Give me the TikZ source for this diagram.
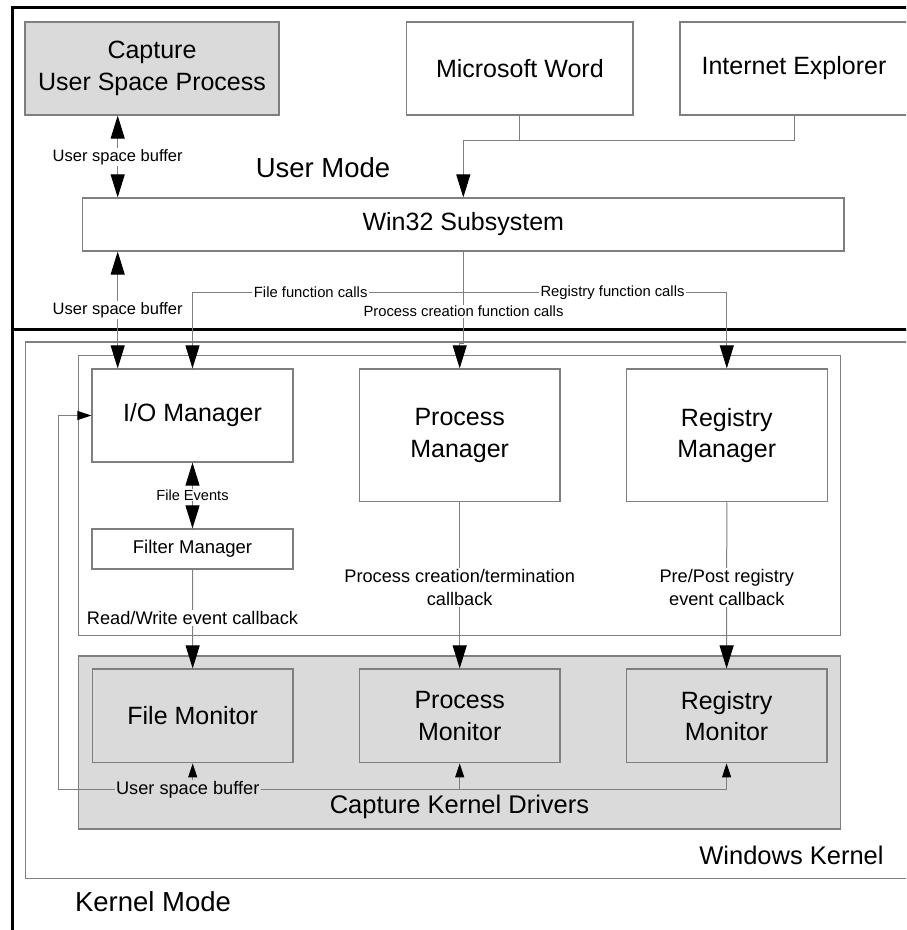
\documentclass[tikz,border=0pt]{standalone}
\usepackage{fontspec}
\setmainfont{Liberation Sans}
\usetikzlibrary{arrows.meta}

\definecolor{edge}{HTML}{7F7F7F}
\definecolor{wirec}{HTML}{808080}
\definecolor{shade}{HTML}{DADADA}

\tikzset{
  bigtip/.tip={Triangle[length=23pt,width=14pt,color=black]},
  smalltip/.tip={Triangle[length=14pt,width=9pt,color=black]},
  frame/.style={line width=3pt, black},
  region/.style={draw=edge, line width=1.2pt},
  box/.style={draw=edge, line width=1.2pt, fill=white, align=center, inner sep=0pt,
              font=\fontsize{25}{31.5}\selectfont},
  graybox/.style={box, fill=shade},
  wire/.style={draw=wirec, line width=1pt},
  tag/.style={fill=white, inner xsep=1.5pt, inner ysep=1pt, align=center},
  tagsmall/.style={tag, font=\fontsize{14.8}{18}\selectfont},
  tagmid/.style={tag, font=\fontsize{16.5}{20}\selectfont},
  tagcb/.style={tag, font=\fontsize{18.2}{23}\selectfont},
  title/.style={inner sep=0pt, font=\fontsize{25.5}{31}\selectfont},
  modetitle/.style={inner sep=0pt, font=\fontsize{27.5}{33}\selectfont},
}

\begin{document}
\begin{tikzpicture}[x=1pt, y=-1pt]
  \clip (0,0) rectangle (906,930);
  \fill[white] (0,0) rectangle (906,930);

  % outer frame: user mode / kernel mode split
  \draw[frame] (12.5,935) -- (12.5,7.5) -- (930,7.5);
  \draw[frame] (12.5,329) -- (930,329);

  % kernel regions
  \draw[region] (25.7,342) rectangle (930,878.3);
  \draw[region] (78.7,355.7) rectangle (840.5,635.5);
  \draw[region, fill=shade] (78.7,656) rectangle (840.7,829);

  % user mode boxes
  \node[graybox, minimum width=254pt, minimum height=93pt] (cap) at (152,68.5)
    {Capture\\User Space Process};
  \node[box, minimum width=226.3pt, minimum height=93pt] (word) at (519.85,68.5)
    {Microsoft Word};
  \node[box, minimum width=228pt, minimum height=93pt] (ie) at (794,68.5)
    {Internet Explorer};
  \node[box, minimum width=761.4pt, minimum height=53pt] (win) at (463.3,224.5)
    {Win32 Subsystem};

  % kernel managers
  \node[box, minimum width=201pt, minimum height=93pt] (io) at (192.5,415.5)
    {I/O Manager};
  \node[box, minimum width=200.7pt, minimum height=132.7pt] (pm) at (459.7,435.3)
    {Process\\Manager};
  \node[box, minimum width=200.7pt, minimum height=132.7pt] (rm) at (726.8,435.3)
    {Registry\\Manager};
  \node[box, minimum width=201pt, minimum height=40pt,
        font=\fontsize{18.5}{22}\selectfont] (flt) at (192.5,549)
    {Filter Manager};

  % capture kernel drivers
  \node[graybox, minimum width=200.6pt, minimum height=93.7pt] (fmon) at (192.7,715.9)
    {File Monitor};
  \node[graybox, minimum width=200.6pt, minimum height=93.7pt] (pmon) at (459.7,715.9)
    {Process\\Monitor};
  \node[graybox, minimum width=200.6pt, minimum height=93.7pt] (rmon) at (726.6,715.9)
    {Registry\\Monitor};

  % helper points
  \coordinate (ubx) at (117.7,0);
  \coordinate (jw) at (463.3,140);
  \coordinate (fc) at (463.3,292.7);
  \coordinate (ub) at (58,789.3);

  % applications into Win32
  \draw[wire] (word.south) -- (word.south |- jw);
  \draw[wire] (ie.south) |- (jw);
  \draw[wire, -bigtip] (jw) -- (win.north);

  % user space buffers
  \draw[wire, bigtip-bigtip] (cap.south -| ubx) -- (win.north -| ubx);
  \draw[wire, bigtip-bigtip] (win.south -| ubx) -- (io.north -| ubx);

  % function calls from Win32
  \draw[wire, -bigtip] (win.south) -- ++(0,92) -| (pm.north);
  \draw[wire, -bigtip] (fc) -| (io.north);
  \draw[wire, -bigtip] (fc) -| (rm.north);

  % file events and callbacks
  \draw[wire, bigtip-bigtip] (io.south) -- (flt.north);
  \draw[wire, -bigtip] (flt.south) -- (fmon.north);
  \draw[wire, -bigtip] (pm.south) -- (pmon.north);
  \draw[wire, -bigtip] (rm.south) -- (rmon.north);

  % driver buffer back to the I/O manager
  \draw[wire, -smalltip] (ub) |- (io.west);
  \draw[wire, -smalltip] (ub) -| (rmon.south);
  \draw[wire, -smalltip] (ub -| pmon.south) -- (pmon.south);
  \draw[wire, -smalltip] (ub -| fmon.south) -- (fmon.south);

  % connector labels
  \node[tagmid] (lb1) at (117.7,157) {User space buffer};
  \node[tagmid] (lb2) at (117.7,310) {User space buffer};
  \node[tagsmall] (lb3) at (310.7,292.7) {File function calls};
  \node[tagsmall] (lb4) at (612.5,292.7) {Registry function calls};
  \node[tagsmall] (lb5) at (463.5,311.7) {Process creation function calls};
  \node[tagsmall, font=\fontsize{14.6}{18}\selectfont] (lb6) at (192.5,495) {File Events};
  \node[tagcb] (lb7) at (192.5,618) {Read/Write event callback};
  \node[tagcb] (lb8) at (459.7,587.5) {Process creation/termination\\callback};
  \node[tagcb] (lb9) at (726.8,587.5) {Pre/Post registry\\event callback};
  \node[tagcb, fill=shade] (lb10) at (187.7,789.3) {User space buffer};

  % region titles
  \node[modetitle] (um) at (323,168) {User Mode};
  \node[modetitle] (km) at (153,901.7) {Kernel Mode};
  \node[title] (wk) at (791.5,855) {Windows Kernel};
  \node[title] (ckd) at (459.5,807) {Capture Kernel Drivers};
\end{tikzpicture}
\end{document}
